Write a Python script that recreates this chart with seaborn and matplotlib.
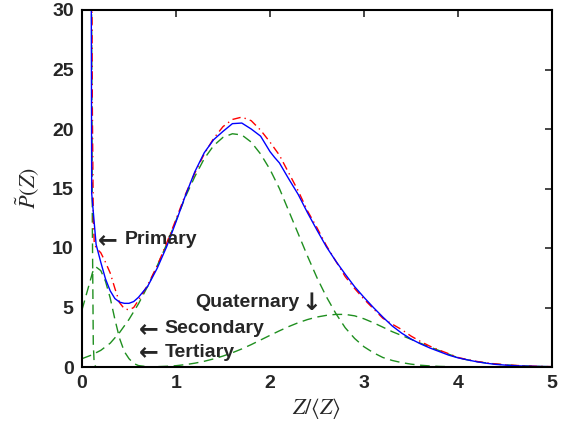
import matplotlib
matplotlib.use("Agg")
import matplotlib.pyplot as plt
import numpy as np
import pandas as pd
import seaborn as sns

# Measured distribution (solid blue)
data_x = [0.095, 0.103, 0.15, 0.2, 0.25, 0.3, 0.35, 0.4, 0.45, 0.5, 0.55, 0.6,
          0.7, 0.8, 0.9, 1.0, 1.1, 1.2, 1.3, 1.4, 1.5, 1.6, 1.7, 1.8, 1.9, 2.0,
          2.05, 2.1, 2.2, 2.3, 2.4, 2.5, 2.6, 2.7, 2.8, 2.9, 3.0, 3.1, 3.2, 3.3,
          3.4, 3.5, 3.6, 3.7, 3.8, 3.9, 4.0, 4.1, 4.2, 4.3, 4.4, 4.5, 4.6, 4.7,
          4.8, 4.9, 5.0]
data_y = [45.0, 14.6, 10.3, 8.8, 7.4, 6.4, 5.75, 5.45, 5.35, 5.35, 5.5, 5.85,
          6.8, 8.3, 10.1, 12.2, 14.4, 16.4, 18.0, 19.1, 19.8, 20.45, 20.5, 20.0,
          19.4, 18.1, 17.6, 17.15, 15.8, 14.5, 12.95, 11.5, 10.1, 8.9, 7.8, 6.75,
          5.85, 5.0, 4.2, 3.45, 2.85, 2.35, 1.95, 1.6, 1.3, 1.0, 0.77, 0.6, 0.44,
          0.32, 0.22, 0.16, 0.11, 0.08, 0.06, 0.04, 0.03]

# Common abscissa for the fitted curves
fit_x = [0.0, 0.05, 0.1, 0.11, 0.12, 0.13, 0.15, 0.2, 0.25, 0.3, 0.35, 0.4,
         0.45, 0.5, 0.55, 0.6, 0.7, 0.8, 0.9, 1.0, 1.1, 1.2, 1.3, 1.4, 1.5,
         1.6, 1.7, 1.8, 1.9, 2.0, 2.1, 2.2, 2.3, 2.4, 2.5, 2.6, 2.7, 2.8, 2.9,
         3.0, 3.1, 3.2, 3.3, 3.4, 3.5, 3.6, 3.7, 3.8, 3.9, 4.0, 4.1, 4.2, 4.3,
         4.4, 4.5, 4.6, 4.7, 4.8, 4.9, 5.0]

# Total fit (red dash-dot)
fit_total = [29.0, 130.0, 44.0, 22.0, 12.5, 10.5, 10.0, 9.6, 8.8, 7.9, 6.6, 5.4,
             4.9, 4.8, 5.0, 5.6, 6.9, 8.5, 10.4, 12.4, 14.5, 16.3, 17.9, 19.2,
             20.2, 20.8, 21.0, 20.7, 19.9, 18.9, 17.8, 16.3, 14.8, 13.1, 11.7,
             10.2, 8.9, 7.6, 6.6, 5.7, 4.9, 4.1, 3.6, 3.15, 2.6, 2.15, 1.75,
             1.42, 1.12, 0.8, 0.62, 0.47, 0.35, 0.26, 0.19, 0.14, 0.1, 0.07,
             0.05, 0.03]

# Individual components (green dashed)
primary = [24.0, 130.0, 35.0, 12.0, 2.0, 0.2, 0.0, 0.0, 0.0, 0.0, 0.0, 0.0,
           0.0, 0.0, 0.0, 0.0, 0.0, 0.0, 0.0, 0.0, 0.0, 0.0, 0.0, 0.0, 0.0,
           0.0, 0.0, 0.0, 0.0, 0.0, 0.0, 0.0, 0.0, 0.0, 0.0, 0.0, 0.0, 0.0,
           0.0, 0.0, 0.0, 0.0, 0.0, 0.0, 0.0, 0.0, 0.0, 0.0, 0.0, 0.0, 0.0,
           0.0, 0.0, 0.0, 0.0, 0.0, 0.0, 0.0, 0.0, 0.0]
secondary = [4.8, 6.2, 7.6, 7.9, 8.1, 8.3, 8.4, 8.1, 7.2, 5.8, 4.0, 2.4,
             1.3, 0.7, 0.3, 0.12, 0.02, 0.0, 0.0, 0.0, 0.0, 0.0, 0.0, 0.0, 0.0,
             0.0, 0.0, 0.0, 0.0, 0.0, 0.0, 0.0, 0.0, 0.0, 0.0, 0.0, 0.0, 0.0,
             0.0, 0.0, 0.0, 0.0, 0.0, 0.0, 0.0, 0.0, 0.0, 0.0, 0.0, 0.0, 0.0,
             0.0, 0.0, 0.0, 0.0, 0.0, 0.0, 0.0, 0.0, 0.0]
tertiary = [0.7, 0.85, 1.0, 1.03, 1.06, 1.1, 1.2, 1.4, 1.7, 2.0, 2.45, 2.9,
            3.45, 4.0, 4.65, 5.3, 6.8, 8.5, 10.3, 12.3, 14.3, 16.0, 17.5, 18.6,
            19.3, 19.6, 19.5, 18.9, 17.9, 16.6, 15.0, 13.1, 11.2, 9.3, 7.5,
            5.9, 4.5, 3.3, 2.4, 1.7, 1.2, 0.8, 0.55, 0.37, 0.24, 0.15, 0.09,
            0.05, 0.03, 0.02, 0.01, 0.0, 0.0, 0.0, 0.0, 0.0, 0.0, 0.0, 0.0, 0.0]
quaternary = [0.0, 0.0, 0.0, 0.0, 0.0, 0.0, 0.0, 0.0, 0.0, 0.0, 0.0, 0.0,
              0.0, 0.0, 0.0, 0.01, 0.02, 0.03, 0.06, 0.11, 0.2, 0.32, 0.48,
              0.68, 0.92, 1.2, 1.52, 1.88, 2.27, 2.66, 3.04, 3.4, 3.72, 3.99,
              4.2, 4.34, 4.42, 4.42, 4.3, 4.05, 3.72, 3.35, 2.97, 2.65, 2.33,
              2.0, 1.68, 1.38, 1.08, 0.78, 0.6, 0.45, 0.34, 0.25, 0.18, 0.13,
              0.09, 0.06, 0.04, 0.03]

sns.set_style("white")
plt.rcParams["font.family"] = ["Liberation Sans", "DejaVu Sans"]
plt.rcParams["mathtext.fontset"] = "stix"

fig = plt.figure(figsize=(5.66, 4.34), dpi=100)
ax = fig.add_axes([82 / 566, 1 - 367 / 434, 470 / 566, 357 / 434])

green = "#1f8f1f"
for comp in (primary, secondary, tertiary, quaternary):
    df = pd.DataFrame({"x": fit_x, "y": comp})
    sns.lineplot(data=df, x="x", y="y", ax=ax, color=green, lw=1.0,
                 estimator=None, sort=False)
    ax.lines[-1].set_dashes((7, 4))

df_fit = pd.DataFrame({"x": fit_x, "y": fit_total})
sns.lineplot(data=df_fit, x="x", y="y", ax=ax, color="red", lw=1.0,
             estimator=None, sort=False)
ax.lines[-1].set_dashes((6, 3, 1, 3))

df_data = pd.DataFrame({"x": data_x, "y": data_y})
sns.lineplot(data=df_data, x="x", y="y", ax=ax, color="blue", lw=1.0,
             estimator=None, sort=False)

ax.set_xlim(0, 5)
ax.set_ylim(0, 30)
ax.set_xticks(range(0, 6))
ax.set_yticks(range(0, 31, 5))
ax.tick_params(direction="in", length=5, width=1.2, top=True, right=True,
               labelsize=14, pad=6)
for lab in ax.get_xticklabels() + ax.get_yticklabels():
    lab.set_fontweight("bold")
for sp in ax.spines.values():
    sp.set_linewidth(1.5)
    sp.set_color("black")

ax.set_xlabel(r"$Z/\langle Z\rangle$", fontsize=16, labelpad=3)
ax.set_ylabel(r"$\tilde{P}(Z)$", fontsize=16, labelpad=8)

# Component labels: a long arrow glyph next to the word
word_kw = dict(fontsize=14, fontweight="bold", va="center", ha="left",
               family=["Liberation Sans"])
arrow_kw = dict(fontsize=17, fontweight="bold", va="center", ha="left",
                family=["DejaVu Sans"])


def left_label(x, y, word):
    ax.text(x, y, "\u2190", **arrow_kw)
    ax.annotate(word, xy=(x, y), xytext=(19, 0), textcoords="offset points",
                **word_kw)


left_label(0.17, 10.7, "Primary")
left_label(0.60, 3.2, "Secondary")
left_label(0.60, 1.25, "Tertiary")
ax.text(1.21, 5.4, "Quaternary", **word_kw)
ax.annotate("\u2193", xy=(1.21, 5.4), xytext=(76, 0),
            textcoords="offset points", **arrow_kw)

fig.savefig("out.png", dpi=100)
